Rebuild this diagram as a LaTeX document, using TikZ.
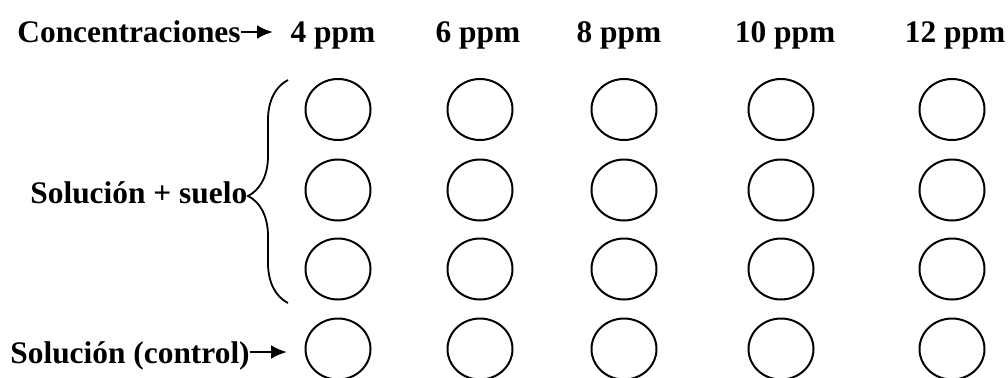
\documentclass[tikz,border=0pt]{standalone}
\usepackage{fontspec}
\setmainfont{Liberation Serif}
\usetikzlibrary{shapes.geometric, arrows.meta, decorations.pathreplacing}

\tikzset{
    label text/.style={font=\fontsize{15.7}{18}\selectfont\bfseries, inner sep=0pt},
    well/.style={draw, ellipse, line width=1pt, minimum width=32.5pt, minimum height=30.5pt, inner sep=0pt},
    pointer/.style={line width=1.3pt, -{Latex[length=8pt, width=7pt]}}
}

\begin{document}
\begin{tikzpicture}[x=0.5pt, y=0.5pt]
    % Page frame
    \clip (0, 0) rectangle (1008, 377);

    % Column headers and wells
    \foreach \x/\c/\h in {338/4/333, 480/6/478, 624/8/619, 781/10/785, 952/12/955} {
        \node[label text, anchor=base] (head-\c) at (\h, 335) {\c{} ppm};
        \foreach \y [count=\r] in {267.5, 187, 108, 28}
            \node[well] (well-\c-\r) at (\x, \y) {};
    }

    % Row labels
    \node[label text, anchor=base west] (conc) at (17, 335) {Concentraciones};
    \coordinate (conc-tip) at (273, 345);
    \draw[pointer] (conc.east |- conc-tip) -- (conc-tip);

    \draw[line width=0.9pt, decorate, decoration={brace, amplitude=20pt, aspect=0.48}]
        (288, 74) -- (288, 297);
    \node[label text, anchor=base west] (soil) at (30, 174) {Solución + suelo};

    \node[label text, anchor=base west] (ctrl) at (10, 14) {Solución (control)};
    \coordinate (ctrl-tip) at (287, 25);
    \draw[pointer] (ctrl.east |- ctrl-tip) -- (ctrl-tip);
\end{tikzpicture}
\end{document}
